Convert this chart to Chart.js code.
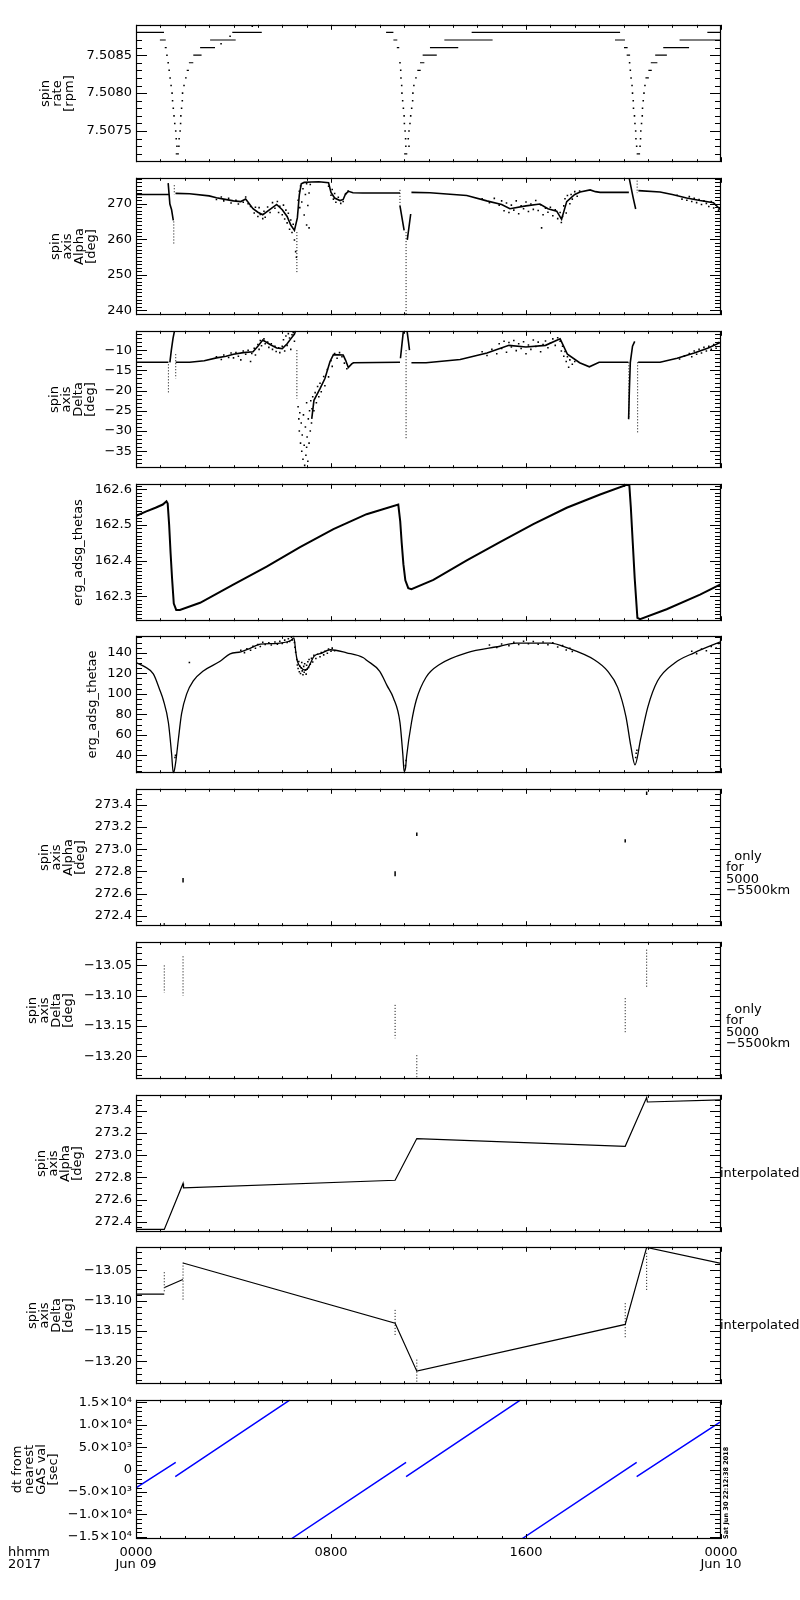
<!DOCTYPE html>
<html>
<head>
<meta charset="utf-8">
<script src="https://cdn.jsdelivr.net/npm/chart.js@4/dist/chart.umd.min.js"></script>
<style>
  body { margin: 0; background: #fff; width: 800px; height: 1600px; position: relative; overflow: hidden; }
  .panel { position: absolute; left: 0; width: 800px; }
</style>
</head>
<body>
<script>
// ---- data (hours from 0000 Jun 09) ----

// spin rate: horizontal runs [h0, h1, rpm] and single dots [h, rpm]
const rateRuns = [
  [0, 1.15, 7.5088], [0.98, 1.22, 7.5087], [1.18, 1.26, 7.5086],
  [1.63, 1.76, 7.5072],
  [2.01, 2.08, 7.5082], [2.08, 2.17, 7.5083], [2.17, 2.35, 7.5084], [2.35, 2.69, 7.5085],
  [2.63, 3.24, 7.5086], [3.04, 4.09, 7.5087], [3.95, 5.16, 7.5088],
  [10.26, 10.56, 7.5088], [10.56, 10.72, 7.5087], [10.7, 10.8, 7.5086], [10.8, 10.83, 7.5085],
  [11.0, 11.13, 7.5072],
  [11.45, 11.52, 7.5082], [11.54, 11.68, 7.5083], [11.65, 11.83, 7.5084], [11.76, 12.34, 7.5085],
  [12.06, 13.22, 7.5086], [12.65, 14.63, 7.5087], [13.77, 19.86, 7.5088],
  [19.65, 20.06, 7.5087], [20.02, 20.17, 7.5086], [20.13, 20.27, 7.5085],
  [20.54, 20.68, 7.5072],
  [20.9, 21.04, 7.5082], [21.02, 21.16, 7.5083], [21.12, 21.39, 7.5084], [21.3, 21.78, 7.5085],
  [21.63, 22.69, 7.5086], [22.3, 24, 7.5087], [23.44, 24, 7.5088]
];
const rateDots = [
  [1.27, 7.5085], [1.32, 7.5084], [1.36, 7.5083], [1.40, 7.5082], [1.44, 7.5081], [1.48, 7.5080],
  [1.50, 7.5079], [1.53, 7.5078], [1.56, 7.5077], [1.59, 7.5076], [1.63, 7.5075], [1.65, 7.5074], [1.68, 7.5073],
  [1.76, 7.5073], [1.77, 7.5074], [1.81, 7.5075], [1.83, 7.5076], [1.84, 7.5077], [1.87, 7.5078],
  [1.90, 7.5079], [1.91, 7.5080], [1.97, 7.5081],
  [3.49, 7.50865], [3.86, 7.50875], [4.77, 7.50888],
  [10.83, 7.5084], [10.86, 7.5083], [10.87, 7.5082], [10.90, 7.5081], [10.91, 7.5080], [10.94, 7.5079],
  [10.97, 7.5078], [11.0, 7.5077], [11.01, 7.5076], [11.04, 7.5075], [11.06, 7.5074], [11.07, 7.5073],
  [11.2, 7.5073], [11.17, 7.5074], [11.2, 7.5075], [11.24, 7.5076], [11.27, 7.5077], [11.31, 7.5078],
  [11.35, 7.5079], [11.36, 7.5080], [11.40, 7.5081],
  [20.25, 7.5084], [20.28, 7.5083], [20.31, 7.5082], [20.35, 7.5081], [20.37, 7.5080], [20.4, 7.5079],
  [20.41, 7.5078], [20.45, 7.5077], [20.47, 7.5076], [20.5, 7.5075], [20.51, 7.5074], [20.54, 7.5073],
  [20.68, 7.5073], [20.7, 7.5074], [20.71, 7.5075], [20.74, 7.5076], [20.77, 7.5077], [20.78, 7.5078],
  [20.81, 7.5079], [20.84, 7.5080], [20.88, 7.5081]
];

// spin axis alpha [deg]
const alphaPath = [
  [[0, 272.6], [1.33, 272.6]],
  [[1.32, 275.8], [1.39, 269.9], [1.46, 268.3], [1.53, 265.3]],
  [[1.62, 272.9], [2.2, 272.8], [3.0, 272.2], [3.3, 271.7], [3.6, 271.3], [4.0, 270.8], [4.3, 270.6],
   [4.5, 271.3], [4.8, 268.6], [5.0, 267.6], [5.2, 266.9], [5.5, 268.4], [5.77, 269.8], [6.0, 268.3],
   [6.2, 266.4], [6.35, 264.0], [6.5, 262.5], [6.62, 266], [6.7, 272.5], [6.78, 275.6], [6.9, 276.0],
   [7.2, 276.1], [7.5, 276.2], [7.9, 275.9], [8.0, 273.2], [8.15, 271.6], [8.37, 270.9], [8.5, 271.2],
   [8.6, 272.8], [8.72, 273.5], [8.9, 273.1], [9.3, 273.0], [10.83, 273.0]],
  [[10.83, 269.4], [11.0, 262.5]],
  [[11.13, 259.8], [11.27, 267.1]],
  [[11.3, 273.2], [12.06, 273.1], [13.57, 272.3], [14.39, 270.8], [15.0, 269.8], [15.34, 268.6],
   [16.0, 269.4], [16.57, 269.9], [16.9, 268.6], [17.26, 267.9], [17.46, 265.6], [17.67, 270.6],
   [18.0, 272.6], [18.22, 273.3], [18.63, 273.9], [18.85, 273.4], [19.04, 273.2], [20.22, 273.2]],
  [[20.24, 277.0], [20.4, 271.6], [20.5, 268.5]],
  [[20.61, 273.7], [21.5, 273.3], [22.0, 272.6], [22.59, 271.6], [23.14, 270.9], [23.69, 270.3], [24, 268.2]]
];
const alphaDotted = [[1.55, 265, 258.4], [1.57, 275.2, 272.6], [6.6, 262, 250.4],
  [10.83, 273.9, 269.4], [11.08, 262, 238.7], [20.56, 276.5, 273]];
const alphaScatter = [
  [3.3, 271.2], [3.5, 271.9], [3.6, 270.8], [3.8, 271.5], [3.9, 270.2], [4.1, 271.0], [4.2, 269.9],
  [4.4, 270.4], [4.5, 271.9], [4.6, 270.0], [4.7, 269.2], [4.85, 267.4], [4.9, 269.0], [5.0, 266.4],
  [5.05, 268.9], [5.1, 267.0], [5.2, 265.8], [5.25, 267.9], [5.3, 266.2], [5.4, 269.1], [5.5, 267.5],
  [5.6, 270.3], [5.7, 268.7], [5.8, 270.6], [5.85, 267.5], [5.9, 269.3], [6.0, 266.9], [6.05, 269.6],
  [6.1, 265.7], [6.15, 268.2], [6.2, 264.6], [6.25, 267.3], [6.3, 262.8], [6.35, 265.4], [6.4, 261.9],
  [6.45, 264.2], [6.5, 259.8], [6.55, 256.5], [6.58, 254.9],
  [6.65, 271.0], [6.7, 273.5], [6.72, 268.9], [6.75, 275.0], [6.8, 270.5], [6.85, 274.2], [6.9, 266.8],
  [6.95, 272.6], [7.0, 264.0], [7.0, 275.6], [7.05, 269.5], [7.1, 273.0], [7.1, 263.2], [7.15, 275.4],
  [7.9, 274.9], [8.0, 272.4], [8.05, 274.0], [8.1, 271.3], [8.15, 272.9], [8.2, 270.4], [8.3, 271.8],
  [8.4, 270.1], [8.5, 270.6], [8.6, 272.7], [8.7, 273.6],
  [14.2, 271.4], [14.5, 270.3], [14.7, 271.5], [14.9, 269.6], [15.0, 270.8], [15.1, 268.0], [15.2, 270.2],
  [15.3, 267.5], [15.4, 269.6], [15.5, 268.2], [15.6, 270.8], [15.7, 267.2], [15.8, 269.4], [15.9, 268.6],
  [16.0, 270.5], [16.1, 267.8], [16.2, 269.9], [16.3, 268.4], [16.4, 270.9], [16.5, 268.1], [16.6, 269.7],
  [16.64, 263.2], [16.7, 266.9], [16.8, 268.7], [16.9, 267.6], [17.0, 269.0], [17.1, 266.6], [17.2, 268.3],
  [17.3, 265.8], [17.4, 267.5], [17.45, 264.7], [17.5, 266.4], [17.55, 269.4], [17.6, 271.4], [17.65, 267.4],
  [17.7, 272.3], [17.8, 270.0], [17.85, 272.6], [17.9, 271.3], [18.0, 273.4], [18.1, 272.1], [18.2, 273.6],
  [22.2, 272.4], [22.4, 271.3], [22.6, 271.0], [22.7, 272.0], [22.8, 270.6], [22.9, 271.5], [23.0, 270.3],
  [23.1, 271.2], [23.2, 269.8], [23.3, 270.8], [23.4, 270.1], [23.5, 269.2], [23.6, 270.6], [23.7, 268.8],
  [23.8, 269.6], [23.9, 268.2], [24.0, 267.4]
];

// spin axis delta [deg]
const deltaPath = [
  [[0, -13], [1.33, -13]],
  [[1.39, -13], [1.45, -10], [1.52, -7], [1.58, -5.2]],
  [[1.63, -13], [2.2, -13], [2.8, -12.6], [3.3, -11.9], [3.7, -11.5], [4.0, -11.0], [4.4, -10.6],
   [4.8, -10.4], [5.0, -9.0], [5.2, -7.5], [5.5, -8.6], [5.77, -9.45], [6.0, -9.6], [6.2, -8.4],
   [6.35, -7.2], [6.5, -6.0], [6.55, -5.2]],
  [[7.21, -27], [7.3, -22.4], [7.55, -19.5], [7.75, -17], [7.96, -12.8], [8.1, -11.1], [8.5, -11.2],
   [8.6, -12.5], [8.71, -14.3], [8.85, -13.4], [8.92, -13.1], [10.83, -13]],
  [[10.85, -12], [10.92, -8], [10.97, -5.2]],
  [[11.12, -5.2], [11.18, -8], [11.22, -10]],
  [[11.3, -13.1], [11.9, -13.1], [13.3, -12.3], [14.4, -10.7], [15.3, -8.8], [16.0, -9.2], [16.8, -8.8],
   [17.4, -7.2], [17.7, -11], [18.2, -13.1], [18.6, -14.1], [19.0, -13], [20.2, -13]],
  [[20.21, -27], [20.24, -20], [20.28, -13], [20.37, -9], [20.46, -7.8]],
  [[20.6, -13], [21.5, -13], [22.2, -12], [22.9, -10.7], [23.45, -9.5], [24, -8]]
];
const deltaDotted = [[1.33, -13.5, -20.6], [1.63, -11, -17], [6.6, -10, -22],
  [11.08, -10, -31.9], [20.22, -13, -27.2], [20.58, -13, -30.4]];
const deltaScatter = [
  [3.3, -11.6], [3.5, -12.3], [3.6, -11.2], [3.8, -11.8], [3.9, -10.7], [4.0, -11.9], [4.1, -10.6],
  [4.2, -11.5], [4.3, -12.4], [4.4, -10.2], [4.5, -11.0], [4.6, -10.0], [4.7, -12.8], [4.75, -10.8],
  [4.85, -9.5], [4.9, -11.2], [5.0, -8.6], [5.05, -9.8], [5.1, -7.6], [5.15, -8.9], [5.25, -7.2],
  [5.3, -8.4], [5.4, -8.0], [5.45, -9.3], [5.55, -8.4], [5.6, -9.8], [5.7, -9.0], [5.75, -10.3],
  [5.85, -9.4], [5.9, -10.6], [6.0, -9.0], [6.05, -7.4], [6.1, -10.2], [6.15, -6.5], [6.2, -8.8],
  [6.25, -5.9], [6.3, -7.0], [6.35, -9.8], [6.4, -6.2], [6.45, -5.6], [6.5, -7.8],
  [6.65, -24], [6.68, -27], [6.7, -30], [6.72, -25.5], [6.75, -33], [6.78, -28], [6.8, -35], [6.82, -31],
  [6.85, -37], [6.87, -26], [6.9, -33.5], [6.92, -38.5], [6.95, -29], [6.97, -36], [7.0, -34], [7.0, -23],
  [7.02, -31.5], [7.05, -37.5], [7.07, -27], [7.1, -33], [7.12, -25], [7.15, -30], [7.17, -22.5], [7.2, -28],
  [7.22, -24.5], [7.25, -21.5], [7.3, -25], [7.35, -20.5], [7.4, -23], [7.45, -19], [7.5, -21.5],
  [7.55, -18.2], [7.6, -20.3], [7.7, -16.5], [7.75, -18.8], [7.85, -14.8], [7.9, -16.6], [8.0, -12.6],
  [8.05, -14.0], [8.15, -10.8], [8.25, -12.0], [8.35, -10.6], [8.45, -11.6], [8.55, -13.2], [8.65, -14.6],
  [14.2, -10.4], [14.4, -11.3], [14.6, -9.8], [14.8, -10.9], [14.9, -8.4], [15.0, -9.6], [15.1, -7.8],
  [15.2, -10.5], [15.3, -8.1], [15.4, -9.2], [15.5, -7.6], [15.6, -10.1], [15.7, -8.4], [15.8, -9.6],
  [15.9, -7.9], [16.0, -10.9], [16.1, -8.7], [16.2, -9.8], [16.3, -7.5], [16.4, -9.1], [16.5, -8.0],
  [16.6, -10.4], [16.7, -8.6], [16.8, -7.7], [16.9, -9.4], [17.0, -8.3], [17.1, -7.2], [17.2, -8.8],
  [17.3, -6.9], [17.4, -7.8], [17.45, -10.2], [17.5, -9.0], [17.55, -11.5], [17.6, -10.3], [17.65, -12.8],
  [17.7, -11.6], [17.75, -14.2], [17.8, -12.4], [17.9, -13.5], [18.0, -12.8],
  [22.3, -12.2], [22.5, -11.4], [22.7, -10.8], [22.8, -11.6], [22.9, -10.2], [23.0, -11.0], [23.1, -9.8],
  [23.2, -10.7], [23.3, -9.3], [23.4, -10.2], [23.5, -9.0], [23.6, -9.8], [23.7, -8.6], [23.8, -9.5],
  [23.9, -8.1], [24.0, -8.8]
];

// erg_adsg_thetas
const thetasPath = [
  [0, 162.525], [0.4, 162.537], [0.8, 162.548], [1.1, 162.557], [1.25, 162.566], [1.3, 162.56],
  [1.36, 162.5], [1.42, 162.42], [1.48, 162.35], [1.55, 162.28], [1.65, 162.262], [1.8, 162.262],
  [2.63, 162.282], [3.99, 162.333], [5.36, 162.383], [6.73, 162.438], [8.1, 162.488], [9.46, 162.53],
  [10.76, 162.557], [10.84, 162.51], [10.9, 162.45], [10.97, 162.39], [11.05, 162.345], [11.17, 162.323],
  [11.3, 162.32], [12.2, 162.346], [13.57, 162.401], [14.93, 162.452], [16.3, 162.502], [17.67, 162.548],
  [19.04, 162.585], [20.13, 162.612], [20.24, 162.61], [20.3, 162.55], [20.38, 162.45], [20.46, 162.35],
  [20.57, 162.24], [20.68, 162.236], [21.77, 162.264], [23.14, 162.305], [24, 162.334]
];

// erg_adsg_thetae
const thetaePath = [
  [0, 130.5], [0.35, 126.5], [0.71, 119.4], [0.98, 103.5], [1.12, 94], [1.33, 71.8], [1.46, 41.6],
  [1.53, 22.6], [1.58, 26], [1.64, 35.2], [1.74, 56], [1.87, 80.6], [2.08, 100], [2.35, 112.6],
  [2.76, 122.2], [3.45, 131.7], [3.86, 139.0], [4.3, 141.0], [4.68, 144.4], [5.1, 148.4], [5.8, 149.2],
  [6.35, 152.0], [6.48, 154.5], [6.56, 140], [6.62, 132], [6.75, 126], [6.95, 123], [7.1, 127],
  [7.3, 136.5], [7.6, 139.5], [7.97, 143], [8.64, 140], [9.33, 135.2], [9.46, 132.8], [10.0, 122],
  [10.3, 108], [10.56, 96], [10.83, 72], [10.95, 40], [11.0, 24.4], [11.06, 28], [11.1, 38.6],
  [11.3, 71.8], [11.5, 94], [11.9, 116.2], [12.47, 128.9], [13.56, 140], [14.93, 146.4], [15.6, 149.5],
  [17.0, 149.5], [17.7, 144.8], [18.8, 133.3], [19.35, 122.2], [19.76, 106.3], [20.1, 77.8], [20.3, 49.2],
  [20.47, 30.8], [20.7, 55.6], [21.0, 87.3], [21.4, 112.7], [22.1, 130.1], [22.9, 140], [24, 151]
];
const thetaeScatter = [
  [2.19, 130.5],
  [4.3, 142.5], [4.45, 140.2], [4.55, 144.0], [4.7, 142.6], [4.8, 146.3], [4.9, 144.4], [5.0, 148.0],
  [5.1, 146.2], [5.2, 150.3], [5.3, 148.1], [5.45, 149.8], [5.55, 147.6], [5.7, 150.6], [5.8, 148.3],
  [5.9, 151.2], [6.0, 149.0], [6.1, 152.4], [6.2, 150.1], [6.25, 153.8], [6.3, 151.0], [6.38, 155.2],
  [6.42, 152.6], [6.46, 156.2], [6.5, 150.0], [6.52, 145.5], [6.55, 140.5],
  [6.6, 133.5], [6.62, 128.2], [6.65, 124.8], [6.68, 131.5], [6.7, 121.6], [6.72, 127.0], [6.75, 119.8],
  [6.78, 125.3], [6.8, 130.6], [6.82, 122.4], [6.85, 118.6], [6.88, 126.8], [6.9, 121.0], [6.92, 129.4],
  [6.95, 123.5], [6.98, 119.2], [7.0, 127.8], [7.02, 124.0], [7.05, 131.2], [7.08, 125.6], [7.1, 133.5],
  [7.15, 128.8], [7.2, 134.6], [7.25, 131.0], [7.3, 137.6], [7.38, 134.4], [7.45, 138.6], [7.55, 136.2],
  [7.6, 140.3], [7.7, 138.0], [7.75, 141.6], [7.85, 139.6], [7.9, 143.8], [8.0, 141.5], [8.05, 144.6],
  [8.15, 142.0],
  [14.5, 147.6], [14.8, 145.2], [15.0, 148.6], [15.3, 147.0], [15.5, 150.4], [15.7, 148.2], [15.9, 151.2],
  [16.1, 148.8], [16.3, 151.0], [16.5, 148.4], [16.7, 150.6], [16.9, 147.8], [17.1, 149.7], [17.3, 145.6],
  [17.5, 147.0], [17.65, 142.8], [17.8, 144.4], [17.9, 141.2],
  [22.8, 141.5], [23.0, 139.2], [23.2, 143.6], [23.4, 142.0], [23.6, 146.2], [23.8, 144.6], [23.9, 149.0],
  [24.0, 151.8],
  [1.6, 38], [1.62, 40], [11.05, 30], [11.08, 35], [20.5, 38], [20.52, 42], [20.55, 45]
];

// values only for 5000-5500km: [h, from, to]
const alphaOnly = [[1.16, 272.318, 272.332], [1.93, 272.70, 272.74], [10.63, 272.756, 272.8],
  [11.52, 273.12, 273.15], [20.07, 273.06, 273.09], [20.95, 273.49, 273.52]];
const deltaOnly = [[1.16, -13.05, -13.095], [1.93, -13.035, -13.10], [10.63, -13.115, -13.17],
  [11.52, -13.198, -13.2375], [20.07, -13.104, -13.16], [20.95, -13.024, -13.086]];

// interpolated
const alphaInterp = [
  [0, 272.33], [1.16, 272.33], [1.93, 272.745], [1.95, 272.705], [10.63, 272.774], [11.52, 273.15],
  [20.07, 273.08], [20.95, 273.52], [20.98, 273.48], [24, 273.5]
];
const deltaInterp = [
  [[0, -13.089], [1.16, -13.089]],
  [[1.17, -13.078], [1.92, -13.065]],
  [[1.93, -13.0377], [10.63, -13.137], [11.52, -13.216], [20.07, -13.139], [20.95, -13.012], [24, -13.0385]]
];
const deltaInterpDots = [[1.16, -13.053, -13.085], [1.93, -13.037, -13.101], [10.63, -13.115, -13.158],
  [11.52, -13.197, -13.2365], [20.07, -13.104, -13.163], [20.95, -13.021, -13.085]];

// dt from nearest GAS val [sec]: segments [h0, v0, h1, v1]
const dtSegments = [
  [0, -4100, 1.63, 1600], [1.61, -1550, 6.32, 15600], [6.36, -15500, 11.08, 1600],
  [11.08, -1545, 15.78, 15600], [15.82, -15500, 20.54, 1600], [20.54, -1545, 23.96, 10600]
];

// x tick labels
const hourLabels = {0: ['0000', 'Jun 09'], 8: '0800', 16: '1600', 24: ['0000', 'Jun 10']};

// ---- helpers ----
const pts = list => list.map(([x, y]) => ({x, y}));
const pieces = list => list.flatMap(p => [...pts(p), {x: p[p.length - 1][0], y: null}]);
const vsegs = list => list.flatMap(([x, a, b]) => [{x, y: a}, {x, y: b}, {x, y: null}]);
const hruns = list => list.flatMap(([a, b, y]) => [{x: a, y}, {x: b, y}, {x: b, y: null}]);
const segs = list => list.flatMap(([x0, y0, x1, y1]) => [{x: x0, y: y0}, {x: x1, y: y1}, {x: x1, y: null}]);

const lineDs = (data, w = 1, color = '#000', dash = []) =>
  ({data, borderColor: color, borderWidth: w, borderDash: dash, pointRadius: 0, tension: 0, fill: false});
const dotDs = (data, r = 0.9) =>
  ({data, showLine: false, pointRadius: r, pointStyle: 'rect', backgroundColor: '#000', borderWidth: 0});

const minus = '\u2212';
const fixed = dec => v => (v < 0 ? minus : '') + Math.abs(v).toFixed(dec);
const sup = {3: '\u00b3', 4: '\u2074'};
const sci = v => {
  if (Math.abs(v) < 1e-9) return '0';
  const e = Math.floor(Math.log10(Math.abs(v)) + 1e-9);
  return (v < 0 ? minus : '') + (Math.abs(v) / Math.pow(10, e)).toFixed(1) + '\u00d710' + sup[e];
};
const isMajor = (v, step) => Math.abs(v / step - Math.round(v / step)) < 1e-6;

// tick values on multiples of the minor step inside [min, max]
function stepTicks(min, max, step) {
  const out = [];
  for (let k = Math.ceil(min / step - 1e-9); k <= Math.floor(max / step + 1e-9); k++) {
    out.push({value: +(k * step).toFixed(8)});
  }
  return out;
}

// ---- panels ----
const panels = [
  {top: 23, min: 7.50709, max: 7.50890, minor: 0.0001, major: 0.0005, label: fixed(4),
   title: ['spin', 'rate', '[rpm]'], c1: 46,
   datasets: [lineDs(hruns(rateRuns), 1.2), dotDs(pts(rateDots), 1.1)]},
  {top: 176, min: 238.6, max: 277.3, minor: 1, major: 10, label: fixed(0),
   title: ['spin', 'axis', 'Alpha', '[deg]'], c1: 56,
   datasets: [lineDs(pieces(alphaPath), 1.6), lineDs(vsegs(alphaDotted), 1, '#000', [1, 2]), dotDs(pts(alphaScatter), 1.1)]},
  {top: 329, min: -39.2, max: -5.2, minor: 1, major: 5, label: fixed(0),
   title: ['spin', 'axis', 'Delta', '[deg]'], c1: 55,
   datasets: [lineDs(pieces(deltaPath), 1.6), lineDs(vsegs(deltaDotted), 1, '#000', [1, 2]), dotDs(pts(deltaScatter), 1.1)]},
  {top: 482, min: 162.2305, max: 162.615, minor: 0.01, major: 0.1, label: fixed(1),
   title: 'erg_adsg_thetas', c1: 79,
   datasets: [lineDs(pts(thetasPath), 2)]},
  {top: 634, min: 22.6, max: 156.6, minor: 5, major: 20, label: fixed(0),
   title: 'erg_adsg_thetae', c1: 93, smooth: true,
   datasets: [Object.assign(lineDs(pts(thetaePath), 1.3), {cubicInterpolationMode: 'monotone'}), dotDs(pts(thetaeScatter), 1.1)]},
  {top: 787, min: 272.305, max: 273.545, minor: 0.05, major: 0.2, label: fixed(1),
   title: ['spin', 'axis', 'Alpha', '[deg]'], c1: 45,
   side: ['  only', 'for', '5000', minus + '5500km'],
   datasets: [lineDs(vsegs(alphaOnly), 1.5)]},
  {top: 940, min: -13.2375, max: -13.011, minor: 0.01, major: 0.05, label: fixed(2),
   title: ['spin', 'axis', 'Delta', '[deg]'], c1: 33,
   side: ['  only', 'for', '5000', minus + '5500km'],
   datasets: [lineDs(vsegs(deltaOnly), 1, '#000', [1, 2])]},
  {top: 1093, min: 272.305, max: 273.545, minor: 0.05, major: 0.2, label: fixed(1),
   title: ['spin', 'axis', 'Alpha', '[deg]'], c1: 42, interp: true,
   datasets: [lineDs(pts(alphaInterp), 1.2)]},
  {top: 1245, min: -13.2375, max: -13.011, minor: 0.01, major: 0.05, label: fixed(2),
   title: ['spin', 'axis', 'Delta', '[deg]'], c1: 33, interp: true,
   datasets: [lineDs(pieces(deltaInterp), 1.2), lineDs(vsegs(deltaInterpDots), 1, '#000', [1, 2])]},
  {top: 1398, min: -15500, max: 15600, minor: 1000, major: 5000, label: sci,
   title: ['dt from', 'nearest', 'GAS val', '[sec]'], c1: 18,
   datasets: [lineDs(segs(dtSegments), 1.5, '#0000ff')]}
];

// IDL-like frame: box, inward ticks on all four sides, side notes
const idlFrame = {
  id: 'idlFrame',
  afterDatasetsDraw(chart, args, opts) {
    const {ctx, chartArea: a, scales: {x, y}} = chart;
    ctx.save();
    ctx.strokeStyle = '#000';
    ctx.lineWidth = 1;
    ctx.beginPath();
    y.ticks.forEach(t => {
      const py = Math.round(y.getPixelForValue(t.value)) + 0.5;
      const len = isMajor(t.value, opts.major) ? 11 : 6;
      ctx.moveTo(a.left, py); ctx.lineTo(a.left + len, py);
      ctx.moveTo(a.right, py); ctx.lineTo(a.right - len, py);
    });
    x.ticks.forEach(t => {
      const px = Math.round(x.getPixelForValue(t.value)) + 0.5;
      const len = t.value % 8 === 0 ? 5 : 3;
      ctx.moveTo(px, a.bottom); ctx.lineTo(px, a.bottom - len);
      ctx.moveTo(px, a.top); ctx.lineTo(px, a.top + len);
    });
    ctx.stroke();
    ctx.lineWidth = 1.2;
    ctx.strokeRect(Math.round(a.left) + 0.5, Math.round(a.top) + 0.5,
      Math.round(a.right - a.left) - 1, Math.round(a.bottom - a.top) - 1);

    ctx.fillStyle = '#000';
    ctx.font = '13px "DejaVu Sans"';
    ctx.textBaseline = 'middle';
    ctx.textAlign = 'left';
    (opts.side || []).forEach((s, i) => ctx.fillText(s, a.right + 5, a.top + 68 + 11.3 * i));
    if (opts.interp) ctx.fillText('interpolated', a.right - 1, a.top + 79);
    if (opts.bottom) {
      ctx.fillText('hhmm', 8, a.bottom + 14);
      ctx.fillText('2017', 8, a.bottom + 26);
      ctx.save();
      ctx.translate(a.right + 5, a.bottom);
      ctx.rotate(-Math.PI / 2);
      ctx.font = 'bold 6.5px "DejaVu Sans"';
      ctx.fillText('Sat Jun 30 22:12:38 2018', 0, 0);
      ctx.restore();
    }
    ctx.restore();
  }
};

Chart.defaults.font.family = '"DejaVu Sans", sans-serif';
Chart.defaults.font.size = 13;
Chart.defaults.color = '#000';

panels.forEach((p, i) => {
  const last = i === panels.length - 1;
  const box = document.createElement('div');
  box.className = 'panel';
  box.style.top = (p.top - 10) + 'px';
  box.style.height = (last ? 212 : 161) + 'px';
  const cv = document.createElement('canvas');
  box.appendChild(cv);
  document.body.appendChild(box);

  new Chart(cv, {
    type: 'line',
    data: {datasets: p.datasets},
    plugins: [idlFrame],
    options: {
      responsive: true,
      maintainAspectRatio: false,
      animation: false,
      events: [],
      layout: {padding: {left: 0, right: 79, top: 10, bottom: last ? 21 : 10}},
      plugins: {
        legend: {display: false},
        tooltip: {enabled: false},
        idlFrame: {major: p.major, side: p.side, interp: p.interp, bottom: last}
      },
      scales: {
        x: {
          type: 'linear', min: 0, max: 24,
          afterFit: s => { s.height = last ? 40 : 0; },
          afterBuildTicks: s => { s.ticks = stepTicks(0, 24, 1); },
          grid: {display: false, drawTicks: false},
          border: {display: false},
          ticks: {
            display: last, autoSkip: false, maxRotation: 0, minRotation: 0, padding: 8,
            font: {size: 13, lineHeight: '12px'},
            callback: v => hourLabels[v] ?? ''
          }
        },
        y: {
          min: p.min, max: p.max,
          afterFit: s => { s.width = 136; },
          afterBuildTicks: s => { s.ticks = stepTicks(p.min, p.max, p.minor); },
          grid: {display: false, drawTicks: false},
          border: {display: false},
          ticks: {
            autoSkip: false, padding: 4,
            callback: v => isMajor(v, p.major) ? p.label(v) : ''
          },
          title: {
            display: true, text: p.title,
            font: {size: 13, lineHeight: '12px'},
            padding: {top: p.c1 - 6, bottom: 0}
          }
        }
      }
    }
  });
});
</script>
</body>
</html>
